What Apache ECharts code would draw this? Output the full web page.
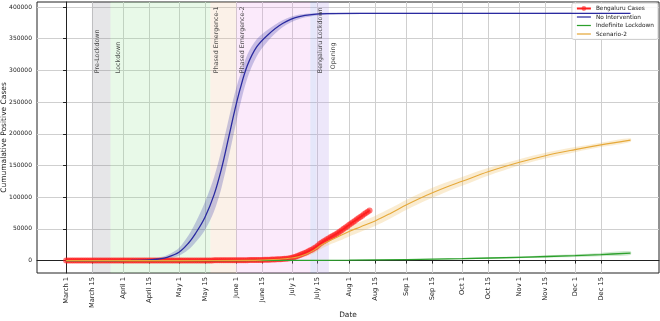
<!DOCTYPE html>
<html lang="en">
<head>
<meta charset="UTF-8">
<title>Bengaluru projections</title>
<script src="https://cdn.jsdelivr.net/npm/echarts@6/dist/echarts.min.js"></script>
<style>
  html, body { margin: 0; padding: 0; background: #fff; }
  #chart { width: 660px; height: 321px; }
</style>
</head>
<body>
<div id="chart"></div>
<script>
// x values are days counted from March 1
const tickDays = [0, 14, 31, 45, 61, 75, 92, 106, 122, 136, 153, 167, 184, 198, 214, 228, 245, 259, 275, 289];
const tickLabels = ['March 1', 'March 15', 'April 1', 'April 15', 'May 1', 'May 15', 'June 1', 'June 15', 'July 1', 'July 15',
  'Aug 1', 'Aug 15', 'Sep 1', 'Sep 15', 'Oct 1', 'Oct 15', 'Nov 1', 'Nov 15', 'Dec 1', 'Dec 15'];
const yTicks = [0, 50000, 100000, 150000, 200000, 250000, 300000, 350000, 400000];

// phases (shaded spans)
const phaseStart = [14, 24, 78, 92, 132, 135];
const phaseEnd = [24, 78, 92, 132, 135, 142];
const phaseColors = ['rgba(120,120,135,0.19)', 'rgba(140,225,140,0.2)', 'rgba(235,190,150,0.22)',
  'rgba(235,150,235,0.2)', 'rgba(150,160,235,0.25)', 'rgba(185,160,235,0.25)'];
const phaseNames = ['Pre-Lockdown', 'Lockdown', 'Phased Emergence-1', 'Phased Emergence-2', 'Bengaluru Lockdown', 'Opening'];
const phaseLabelDay = [17, 28, 81, 95.5, 137.6, 144.2];
const phaseLabelY = [295700, 295700, 295700, 295700, 295700, 302000];

// No Intervention
const noDays = [0, 20, 35, 45, 50, 55, 61, 66, 70, 75, 80, 84, 88, 91, 94, 98, 103, 109, 117, 126, 141, 160, 200, 250, 305];
const noMid = [0, 0, 200, 1000, 2500, 5500, 13000, 27000, 43000, 68000, 104000, 145000, 196000, 235000, 270000, 308000, 337000, 356000, 374000, 385000, 389500, 390000, 390000, 390000, 390000];
const noLow = [0, 0, 100, 500, 1200, 3000, 7500, 17000, 29000, 48000, 78000, 115000, 165000, 205000, 245000, 288000, 322000, 346000, 368000, 381000, 388000, 389000, 389000, 389000, 389000];
const noHigh = [0, 0, 400, 2000, 4500, 9000, 20000, 39000, 60000, 92000, 132000, 175000, 225000, 262000, 292000, 325000, 349000, 364000, 379000, 388000, 391000, 391000, 391000, 391000, 391000];

// Indefinite Lockdown
const indDays = [0, 60, 120, 153, 184, 214, 245, 275, 289, 305];
const indMid = [0, 0, 200, 600, 1500, 3000, 5200, 7800, 9500, 11800];
const indLow = [0, 0, 100, 300, 900, 2000, 3700, 5600, 6900, 8800];
const indHigh = [0, 0, 300, 900, 2100, 4000, 6700, 10000, 12100, 14800];

// Scenario-2
const scDays = [0, 60, 100, 106, 112, 118, 122, 126, 130, 134, 138, 142, 148, 153, 159, 167, 175, 184, 191, 198, 206, 214, 228, 245, 259, 275, 289, 305];
const scMid = [0, 0, 300, 800, 1600, 2800, 4000, 6500, 10500, 16500, 24500, 31000, 39000, 46000, 53000, 62500, 74000, 88000, 98000, 107000, 116500, 125000, 140000, 155000, 165500, 175000, 182500, 190000];
const scLow = [0, 0, 0, 300, 800, 1600, 2500, 3800, 6800, 11500, 18500, 24500, 31500, 38000, 45000, 54500, 66000, 80000, 90000, 99000, 109000, 118000, 134000, 150000, 161000, 171000, 179000, 187000];
const scHigh = [0, 0, 600, 1300, 2400, 4000, 5500, 9500, 14500, 21500, 30500, 37500, 46500, 54000, 61000, 70500, 82000, 96000, 106000, 115000, 124000, 132000, 146000, 160000, 170000, 179000, 186000, 193000];

// Bengaluru Cases, daily from March 1
const blrCases = [
  0, 0, 0, 0, 0, 0, 0, 0, 1, 4, 4, 4, 5, 6, 6,
  8, 10, 11, 14, 18, 26, 33, 38, 41, 44, 48, 52, 55, 57, 62, 70,
  74, 82, 88, 90, 92, 97, 100, 102, 104, 111, 117, 123, 128, 134, 140,
  146, 150, 152, 156, 160, 167, 171, 174, 178, 183, 186, 189, 192, 196, 199,
  203, 205, 208, 211, 215, 218, 222, 228, 234, 240, 248, 253, 260, 265, 272,
  280, 290, 302, 315, 330, 345, 358, 372, 387, 400, 412, 425, 440, 455, 470, 490,
  510, 540, 570, 600, 630, 660, 700, 740, 780, 830, 870, 920, 980, 1040,
  1100, 1170, 1250, 1340, 1440, 1550, 1670, 1800, 1950, 2100, 2280, 2480, 2700, 2950, 3250, 3600,
  4300, 5200, 6200, 7300, 8500, 9700, 10800, 12000, 13300, 14700, 16100, 17600, 19300, 21200, 23500, 26000,
  28000, 29900, 31800, 33500, 35300, 37000, 38700, 40400, 42000,
  44000, 46000, 48000, 50100, 52200, 54300, 56400, 58500, 60500,
  62500, 64600, 66700, 68800, 70900, 73000, 75000, 77000, 79000
];

const font = 'DejaVu Sans';
const lineIcon = 'path://M0 0H18V1.6H0Z';

function pairs(xs, ys) {
  return xs.map((x, i) => [x, ys[i]]);
}

// confidence band as a filled polygon: upper edge forward, lower edge back
function band(xs, lo, hi, color) {
  return {
    type: 'custom', silent: true, z: 1,
    data: [0],
    renderItem: function (params, api) {
      const pts = [];
      for (let i = 0; i < xs.length; i++) pts.push(api.coord([xs[i], hi[i]]));
      for (let i = xs.length - 1; i >= 0; i--) pts.push(api.coord([xs[i], lo[i]]));
      return {
        type: 'polygon',
        shape: { points: pts, smooth: 0.3 },
        style: { fill: color, stroke: null }
      };
    }
  };
}

const chart = echarts.init(document.getElementById('chart'));

const option = {
  animation: false,
  textStyle: { fontFamily: font },
  grid: {
    left: 37, right: 1, top: 2, bottom: 48, outerBoundsMode: 'none', containLabel: false,
    show: true, borderColor: '#222', borderWidth: 1
  },
  legend: {
    data: [
      { name: 'Bengaluru Cases' },
      { name: 'No Intervention', icon: lineIcon },
      { name: 'Indefinite Lockdown', icon: lineIcon },
      { name: 'Scenario-2', icon: lineIcon }
    ],
    orient: 'vertical', right: 2, top: 3,
    itemWidth: 14, itemHeight: 6, itemGap: 1.5,
    padding: [2, 4, 2, 4],
    backgroundColor: 'rgba(255,255,255,0.85)', borderColor: '#d0d0d0', borderWidth: 1, borderRadius: 2,
    textStyle: { fontSize: 5.8, lineHeight: 7, color: '#222', fontFamily: font }
  },
  xAxis: {
    type: 'value', min: -15.7, max: 320.4,
    name: 'Date', nameLocation: 'middle', nameGap: 39, nameMoveOverlap: false,
    nameTextStyle: { fontSize: 7.4, color: '#222', fontFamily: font },
    axisLine: { show: true, lineStyle: { color: '#222' } },
    axisTick: { show: true, length: 3, customValues: tickDays, lineStyle: { color: '#222' } },
    axisLabel: {
      customValues: tickDays, rotate: 90, fontSize: 6.7, color: '#222', margin: 4, fontFamily: font,
      formatter: v => tickLabels[tickDays.indexOf(v)]
    },
    splitLine: { show: true, lineStyle: { color: '#cfcfcf', width: 1 } }
  },
  yAxis: {
    type: 'value', min: -19600, max: 407900,
    name: 'Cumumalative Positive Cases', nameLocation: 'middle', nameGap: 29, nameMoveOverlap: false,
    nameTextStyle: { fontSize: 7.5, color: '#222', fontFamily: font },
    axisLine: { show: true, lineStyle: { color: '#222' } },
    axisTick: { show: true, length: 3, customValues: yTicks, lineStyle: { color: '#222' } },
    axisLabel: { customValues: yTicks, fontSize: 6, color: '#222', margin: 5, fontFamily: font, formatter: v => String(v) },
    splitLine: { show: true, lineStyle: { color: '#cfcfcf', width: 1 } }
  },
  series: [
    {
      name: 'phases', type: 'line', data: [], silent: true, z: 0,
      markArea: {
        silent: true,
        data: phaseStart.map((s, i) => [{ xAxis: s, itemStyle: { color: phaseColors[i] } }, { xAxis: phaseEnd[i] }])
      }
    },
    {
      name: 'phaseLabels', type: 'scatter', symbolSize: 0, silent: true, z: 5,
      data: phaseNames.map((n, i) => [phaseLabelDay[i], phaseLabelY[i], n]),
      label: {
        show: true, rotate: 90, align: 'left', verticalAlign: 'middle', position: 'inside',
        fontSize: 6.3, color: '#222', fontFamily: font,
        formatter: p => p.data[2]
      }
    },
    band(noDays, noLow, noHigh, 'rgba(80,80,175,0.3)'),
    band(indDays, indLow, indHigh, 'rgba(44,160,44,0.22)'),
    band(scDays, scLow, scHigh, 'rgba(235,180,70,0.25)'),
    {
      name: 'Bengaluru Cases', type: 'line', z: 3,
      data: blrCases.map((v, i) => [i, v]),
      symbol: 'circle', symbolSize: 6, showSymbol: true,
      itemStyle: { color: 'rgba(255,30,30,0.6)' },
      lineStyle: { color: '#ff2020', width: 1.5 }
    },
    {
      name: 'No Intervention', type: 'line', z: 4, smooth: 0.35, symbol: 'none',
      data: pairs(noDays, noMid),
      itemStyle: { color: '#2a2aa0' }, lineStyle: { color: '#2a2aa0', width: 1.3 }
    },
    {
      name: 'Indefinite Lockdown', type: 'line', z: 4, smooth: 0.35, symbol: 'none',
      data: pairs(indDays, indMid),
      itemStyle: { color: '#2ca02c' }, lineStyle: { color: '#2ca02c', width: 1.3 }
    },
    {
      name: 'Scenario-2', type: 'line', z: 4, smooth: 0.35, symbol: 'none',
      data: pairs(scDays, scMid),
      itemStyle: { color: '#e6a93a' }, lineStyle: { color: '#e6a93a', width: 1.1 }
    }
  ]
};

chart.setOption(option);
</script>
</body>
</html>
